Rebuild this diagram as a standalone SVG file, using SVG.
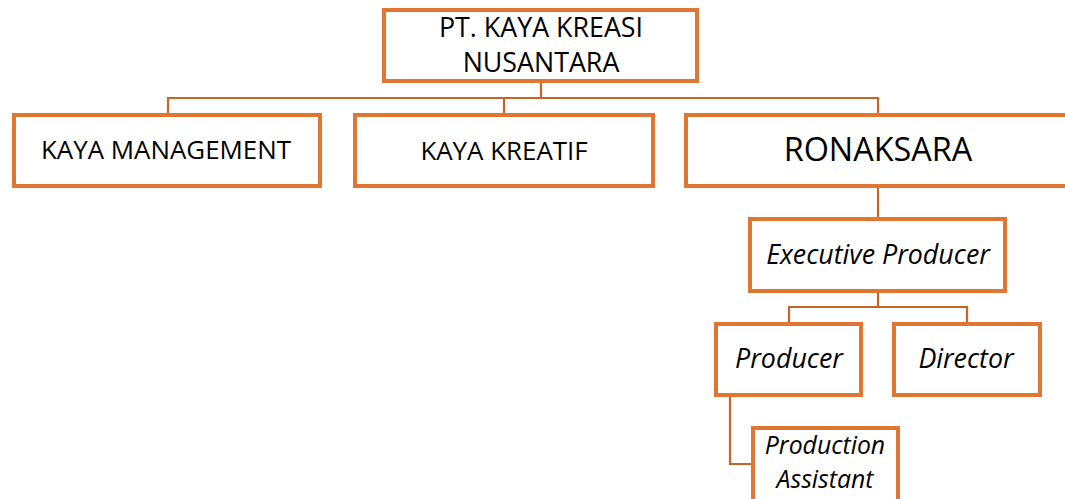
<svg xmlns="http://www.w3.org/2000/svg" width="1065" height="499" viewBox="0 0 1065 499">
<style>
.box{fill:#fff;stroke:#E07632;stroke-width:4}
.t{font-family:"Open Sans","Liberation Sans",sans-serif;fill:#000;text-anchor:middle}
.i{font-style:italic;font-size:26.8px}
.s{font-size:24.8px}
.c{fill:none;stroke:#C8642A;stroke-width:2.2}
</style>
<rect width="1065" height="499" fill="#fff"/>
<g id="connectors">
<path class="c" d="M541,83V98M168,113V98H878V113M504,98V113"/>
<path class="c" d="M878,188V217"/>
<path class="c" d="M878,293V307M789,322V307H967V322"/>
<path class="c" d="M730,397V464H751"/>
</g>
<g id="n-top"><rect class="box" x="384" y="10" width="313" height="71"/>
<text class="t" x="541" y="37" font-size="26.8">PT. KAYA KREASI</text>
<text class="t" x="541" y="72" font-size="26.8">NUSANTARA</text></g>
<g id="n-mgmt"><rect class="box" x="14" y="115" width="306" height="71"/>
<text class="t" x="166" y="159" font-size="25.9">KAYA MANAGEMENT</text></g>
<g id="n-kreatif"><rect class="box" x="355" y="115" width="298" height="71"/>
<text class="t" x="504" y="160" font-size="25.9">KAYA KREATIF</text></g>
<g id="n-ronaksara"><rect class="box" x="686" y="115" width="390" height="71"/>
<text class="t" x="878" y="161" font-size="32.4">RONAKSARA</text></g>
<g id="n-exec"><rect class="box" x="750" y="219" width="255" height="72"/>
<text class="t i" x="878" y="264">Executive Producer</text></g>
<g id="n-producer"><rect class="box" x="716" y="324" width="145" height="71"/>
<text class="t i" x="789" y="368">Producer</text></g>
<g id="n-director"><rect class="box" x="894" y="324" width="146" height="71"/>
<text class="t i" x="966" y="368">Director</text></g>
<g id="n-pa"><rect class="box" x="753" y="428" width="145" height="80"/>
<text class="t i s" x="825" y="454">Production</text>
<text class="t i s" x="825" y="488">Assistant</text></g>
</svg>
